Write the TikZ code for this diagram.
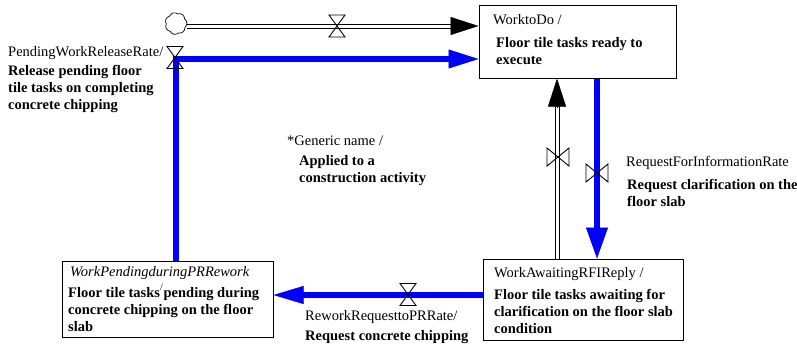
\documentclass[tikz,border=0pt]{standalone}
\usepackage{fontspec}
\setmainfont{Liberation Serif}
\usetikzlibrary{arrows.meta,shapes.symbols}

\definecolor{flowblue}{RGB}{0,0,255}

\tikzset{
  stock/.style={draw=black, line width=1pt, fill=white, inner sep=0pt},
  lbl/.style={anchor=base west, inner sep=0pt, align=left,
              font=\fontsize{14.5}{17}\selectfont},
  lblb/.style={lbl, font=\fontsize{14.5}{17}\selectfont\bfseries},
  pipe/.style={draw=black, line width=1pt, double=white, double distance=3pt},
  bpipe/.style={draw=flowblue, line width=6pt},
  btip/.style={draw=flowblue, fill=flowblue, -{Triangle[length=30pt,width=19pt]}, line width=0.5pt},
  ktip/.style={draw=black, -{Triangle[length=28pt,width=18pt]}, line width=0.5pt},
  hvalve/.pic={\draw[line width=0.9pt] (-8,-11) -- (8,-11) -- (-8,11) -- (8,11) -- cycle;},
  vvalve/.pic={\draw[line width=0.9pt] (-11,-9) -- (-11,9) -- (11,-9) -- (11,9) -- cycle;},
}

\begin{document}
\begin{tikzpicture}[x=1pt, y=-1pt]
  \useasboundingbox (0,0) rectangle (797,346);

  % stocks
  \node[stock, minimum width=197pt, minimum height=73pt] (todo) at (577.5,41.5) {};
  \node[stock, minimum width=200pt, minimum height=81pt] (await) at (583,299.5) {};
  \node[stock, minimum width=211pt, minimum height=76pt] (pend) at (167.5,299) {};

  % source cloud
  \node[cloud, cloud puffs=7, cloud puff arc=110, draw, line width=0.7pt,
        minimum width=22pt, minimum height=22pt, aspect=1, inner sep=0pt,
        rotate=15] (src) at (176,23.5) {};

  % flow points and valves
  \coordinate (top) at (176,26);
  \coordinate (vtop) at (337,26);
  \coordinate (corner) at (176,59);
  \coordinate (vrel) at (175,57.5);
  \coordinate (upx) at (557,0);
  \coordinate (vup) at (558,157);
  \coordinate (dnx) at (597,0);
  \coordinate (vdn) at (597,173);
  \coordinate (botx) at (0,295);
  \coordinate (vbot) at (408,294.5);

  % inflow from the cloud into WorktoDo
  \draw[pipe, shorten >=26pt] (src.east |- top) -- (top -| todo.west);
  \draw[ktip] ([xshift=-28pt]top -| todo.west) -- (top -| todo.west);
  \pic at (vtop) {hvalve};

  % release of pending work back to WorktoDo
  \draw[bpipe, shorten >=28pt] (corner |- pend.north) -- (corner) -- (corner -| todo.west);
  \draw[btip] ([xshift=-30pt]corner -| todo.west) -- (corner -| todo.west);
  \pic at (vrel) {hvalve};

  % clarification received: WorkAwaitingRFIReply -> WorktoDo
  \draw[pipe, shorten >=26pt] (upx |- await.north) -- (upx |- todo.south);
  \draw[ktip] ([yshift=-29pt]upx |- todo.south) -- (upx |- todo.south);
  \pic at (vup) {vvalve};

  % request for information: WorktoDo -> WorkAwaitingRFIReply
  \draw[bpipe, shorten >=28pt] (dnx |- todo.south) -- (dnx |- await.north);
  \draw[btip, -{Triangle[length=31pt,width=22pt]}] ([yshift=31pt]dnx |- await.north) -- (dnx |- await.north);
  \pic at (vdn) {vvalve};

  % rework request: WorkAwaitingRFIReply -> WorkPendingduringPRRework
  \draw[bpipe, shorten >=28pt] (botx -| await.west) -- (botx -| pend.east);
  \draw[btip, -{Triangle[length=30pt,width=18pt]}] ([xshift=30pt]botx -| pend.east) -- (botx -| pend.east);
  \pic at (vbot) {hvalve};

  % stock labels (multi-line nodes sit on the baseline of their last line)
  \node[lbl] (todoname) at (493,24) {WorktoDo /};
  \node[lblb] (tododesc) at (496,64) {Floor tile tasks ready to\\execute};

  \node[lbl] (awaitname) at (494,277) {WorkAwaitingRFIReply /};
  \node[lblb] (awaitdesc) at (494,333) {Floor tile tasks awaiting for\\clarification on the floor slab\\condition};

  \node[lbl, font=\fontsize{14.5}{17}\selectfont\itshape] (pendname) at (70,276) {WorkPendingduringPRRework};
  \node[lblb] (penddesc) at (68,331) {Floor tile tasks pending during\\concrete chipping on the floor\\slab};
  \node[lbl, font=\fontsize{10}{12}\selectfont] (pendslash) at (160,290) {/};

  % flow labels
  \node[lbl] (relname) at (8,56) {PendingWorkReleaseRate/};
  \node[lblb] (reldesc) at (8,109) {Release pending floor\\tile tasks on completing\\concrete chipping};

  \node[lbl] (rfiname) at (626,166) {RequestForInformationRate};
  \node[lblb] (rfidesc) at (627,206) {Request clarification on the\\floor slab};

  \node[lbl] (rwname) at (305,320) {ReworkRequesttoPRRate/};
  \node[lblb] (rwdesc) at (305,340) {Request concrete chipping};

  % legend
  \node[lbl] (genname) at (287,145) {*Generic name /};
  \node[lblb] (gendesc) at (299,182) {Applied to a\\construction activity};
\end{tikzpicture}
\end{document}
